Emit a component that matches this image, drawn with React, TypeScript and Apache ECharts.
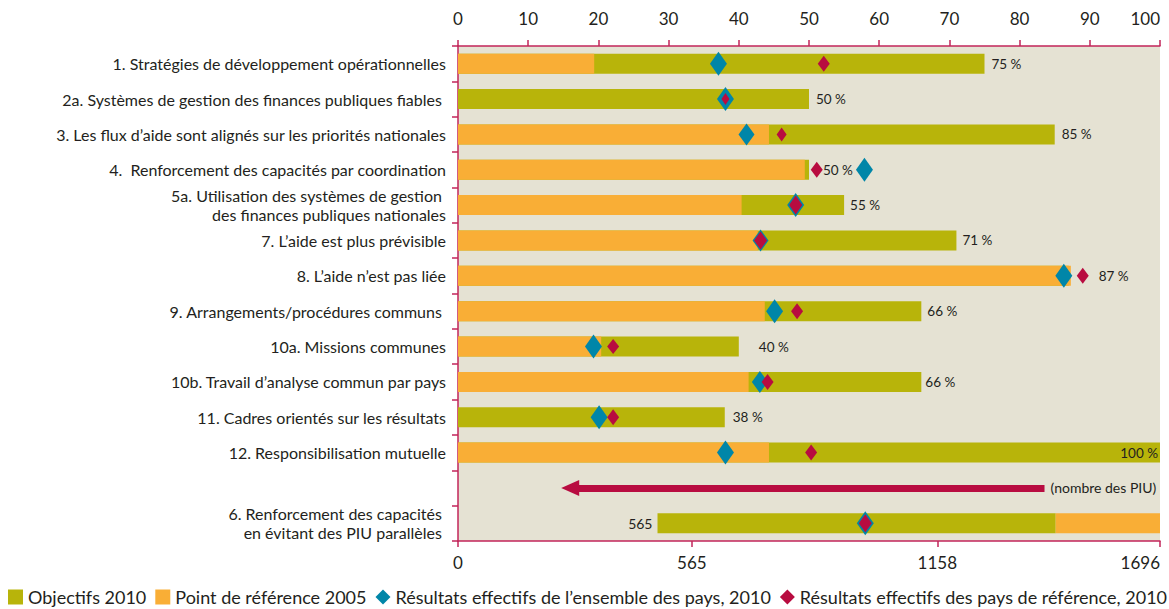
import React, { useEffect, useRef } from "react";
import * as echarts from "echarts";

const categories = [
  "1. Stratégies de développement opérationnelles",
  "2a. Systèmes de gestion des finances publiques fiables ",
  "3. Les flux d’aide sont alignés sur les priorités nationales",
  "4.  Renforcement des capacités par coordination",
  "5a. Utilisation des systèmes de gestion \ndes finances publiques nationales",
  "7. L’aide est plus prévisible",
  "8. L’aide n’est pas liée",
  "9. Arrangements/procédures communs ",
  "10a. Missions communes",
  "10b. Travail d’analyse commun par pays",
  "11. Cadres orientés sur les résultats",
  "12. Responsibilisation mutuelle",
  "",
  "6. Renforcement des capacités \nen évitant des PIU parallèles ",
];

// percent indicators (rows 0..11)
const objectifs2010 = [75, 50, 85, 50, 55, 71, 87, 66, 40, 66, 38, 100];
const reference2005 = [19.4, null, 44.3, 49.4, 40.4, 42.7, 87.3, 43.7, 20.4, 41.4, null, 44.3];
const ensemble2010 = [37.1, 38.1, 41.1, 57.9, 48.1, 43.1, 86.3, 45.1, 19.3, 43, 20.1, 38.1];
const paysRef2010 = [52.1, 38.1, 46.1, 51.1, 48.1, 43.1, 89, 48.3, 22.1, 44.1, 22.1, 50.3];

// indicator 6 (number of PIUs, bottom axis)
const piuBarStart = 482;
const piuTargetEnd = 1444;
const piuBaselineEnd = 1696;
const piuEnsemble = 984;
const piuPaysRef = 984;
const piuTargetLabel = "565";
const piuTicks = [0, 565, 1158, 1696];
const piuArrowFrom = 1417;
const piuArrowTo = 271;

const topTicksMax = 100;

const OLIVE = "#B8B40A";
const ORANGE = "#F9AE36";
const BLUE = "#0086A8";
const RED = "#B80C40";
const AXIS = "#C2245A";
const TEXT = "#231F20";
const FONT = "Lato";

const labelDistance = [7, 7, 7, 14, 6, 6, 30, 6, 20, 4, 8, 2];
const blueSizes = [[17, 24], [17, 24], [16, 22], [17, 24], [17, 24], [16, 22], [17, 24], [17, 24], [17, 24], [16, 22], [17, 24], [17, 24]];
const redSizes = [[12, 16], [8, 12], [10, 14], [12, 16], [13, 19], [13, 18], [12, 16], [12, 16], [12, 15], [12, 16], [12, 16], [12, 16]];

const NAME_OBJ = "Objectifs 2010";
const NAME_REF = "Point de référence 2005";
const NAME_ENS = "Résultats effectifs de l’ensemble des pays, 2010";
const NAME_PAYS = "Résultats effectifs des pays de référence, 2010";

export default function App() {
  const ref = useRef<HTMLDivElement>(null);
  useEffect(() => {
    if (!ref.current) return;
    const chart = echarts.init(ref.current, undefined, { renderer: "svg" });
    const n = categories.length;
    const pct = (arr: (number | null)[]) =>
      categories.map((_, i) => (i < arr.length && arr[i] != null ? arr[i] : "-"));
    const piuOnly = (v: number) => categories.map((_, i) => (i === n - 1 ? v : "-"));

    const oliveData = categories.map((_, i) => {
      if (i >= objectifs2010.length) return "-";
      const last = i === objectifs2010.length - 1;
      return {
        value: objectifs2010[i],
        label: last
          ? { position: "insideRight", distance: 2 }
          : { position: "right", distance: labelDistance[i] },
      };
    });

    const option: any = {
      animation: false,
      grid: {
        left: 458,
        right: 9,
        top: 46,
        bottom: 68,
        show: true,
        backgroundColor: "#E5E2D3",
        borderWidth: 0,
      },
      legend: {
        left: 8,
        top: 588,
        padding: 0,
        itemWidth: 15,
        itemHeight: 15,
        itemGap: 9,
        textStyle: { fontFamily: FONT, fontSize: 18, color: TEXT },
        data: [
          { name: NAME_OBJ, icon: "rect" },
          { name: NAME_REF, icon: "rect" },
          { name: NAME_ENS, icon: "diamond" },
          { name: NAME_PAYS, icon: "diamond" },
        ],
      },
      yAxis: {
        type: "category",
        data: categories,
        inverse: true,
        axisLine: { lineStyle: { color: AXIS, width: 1.5 } },
        axisTick: { show: true, length: 6, lineStyle: { color: AXIS, width: 1.5 } },
        axisLabel: {
          color: TEXT,
          fontFamily: FONT,
          fontSize: 16,
          margin: 12,
          lineHeight: 19,
        },
      },
      xAxis: [
        {
          type: "value",
          position: "top",
          min: 0,
          max: topTicksMax,
          interval: 10,
          splitLine: { show: false },
          axisLine: { show: true, lineStyle: { color: AXIS, width: 1.5 } },
          axisTick: { show: true, length: 6, lineStyle: { color: AXIS, width: 1.5 } },
          axisLabel: {
            color: TEXT,
            fontFamily: FONT,
            fontSize: 17,
            margin: 19,
            alignMaxLabel: "right",
          },
        },
        {
          type: "value",
          position: "bottom",
          min: 0,
          max: piuBaselineEnd,
          splitLine: { show: false },
          axisLine: { show: true, lineStyle: { color: AXIS, width: 1.5 } },
          axisTick: {
            show: true,
            length: 6,
            customValues: piuTicks,
            lineStyle: { color: AXIS, width: 1.5 },
          },
          axisLabel: {
            color: TEXT,
            fontFamily: FONT,
            fontSize: 17,
            margin: 13,
            customValues: piuTicks,
            alignMaxLabel: "right",
            formatter: (v: number) => String(v),
          },
        },
      ],
      series: [
        {
          name: NAME_OBJ,
          type: "bar",
          xAxisIndex: 0,
          barWidth: 20,
          barGap: "-100%",
          itemStyle: { color: OLIVE },
          label: {
            show: true,
            formatter: "{c} %",
            color: TEXT,
            fontFamily: FONT,
            fontSize: 13.5,
          },
          data: oliveData,
        },
        {
          name: NAME_REF,
          type: "bar",
          xAxisIndex: 0,
          barWidth: 20,
          barGap: "-100%",
          itemStyle: { color: ORANGE },
          data: pct(reference2005),
        },
        {
          name: "piu-base",
          type: "bar",
          xAxisIndex: 1,
          stack: "piu",
          barWidth: 20,
          barGap: "-100%",
          itemStyle: { color: "rgba(0,0,0,0)" },
          silent: true,
          data: piuOnly(piuBarStart),
          markLine: {
            silent: true,
            symbol: ["none", "triangle"],
            symbolSize: [16, 18],
            lineStyle: { color: RED, width: 7, type: "solid" },
            label: {
              show: true,
              position: "start",
              formatter: "(nombre des PIU)",
              color: TEXT,
              fontFamily: FONT,
              fontSize: 14,
              distance: 6,
            },
            data: [[{ coord: [piuArrowFrom, n - 2] }, { coord: [piuArrowTo, n - 2] }]],
          },
        },
        {
          name: NAME_OBJ,
          type: "bar",
          xAxisIndex: 1,
          stack: "piu",
          barWidth: 20,
          barGap: "-100%",
          itemStyle: { color: OLIVE },
          label: {
            show: true,
            position: "left",
            distance: 5,
            formatter: piuTargetLabel,
            color: TEXT,
            fontFamily: FONT,
            fontSize: 14,
          },
          data: piuOnly(piuTargetEnd - piuBarStart),
        },
        {
          name: NAME_REF,
          type: "bar",
          xAxisIndex: 1,
          stack: "piu",
          barWidth: 20,
          barGap: "-100%",
          itemStyle: { color: ORANGE },
          data: piuOnly(piuBaselineEnd - piuTargetEnd),
        },
        {
          name: NAME_ENS,
          type: "scatter",
          xAxisIndex: 0,
          symbol: "diamond",
          itemStyle: { color: BLUE, opacity: 1 },
          data: ensemble2010.map((v, i) => ({ value: [v, i], symbolSize: blueSizes[i] })),
        },
        {
          name: NAME_PAYS,
          type: "scatter",
          xAxisIndex: 0,
          symbol: "diamond",
          itemStyle: { color: RED, opacity: 1 },
          data: paysRef2010.map((v, i) => ({ value: [v, i], symbolSize: redSizes[i] })),
        },
        {
          name: NAME_ENS,
          type: "scatter",
          xAxisIndex: 1,
          symbol: "diamond",
          symbolSize: [17, 24],
          itemStyle: { color: BLUE, opacity: 1 },
          data: [[piuEnsemble, n - 1]],
        },
        {
          name: NAME_PAYS,
          type: "scatter",
          xAxisIndex: 1,
          symbol: "diamond",
          symbolSize: [13, 18],
          itemStyle: { color: RED, opacity: 1 },
          data: [[piuPaysRef, n - 1]],
        },
      ],
    };
    chart.setOption(option);
    return () => chart.dispose();
  }, []);
  return (
    <div
      ref={ref}
      style={{ position: "fixed", left: 0, top: 0, width: 1169, height: 609, background: "#fff" }}
    />
  );
}
